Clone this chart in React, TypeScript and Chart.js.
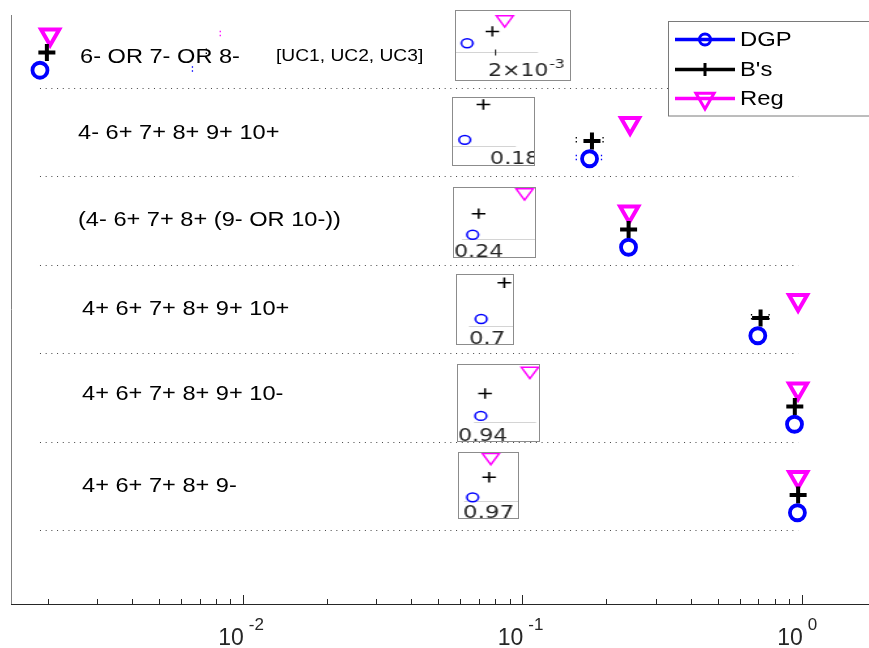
import React, { useEffect, useRef } from 'react';
import { Chart, registerables } from 'chart.js';

Chart.register(...registerables);

// ---- data -------------------------------------------------------------
const rowLabels = [
  '6- OR 7- OR 8-',
  '4- 6+ 7+ 8+ 9+ 10+',
  '(4- 6+ 7+ 8+ (9- OR 10-))',
  '4+ 6+ 7+ 8+ 9+ 10+',
  '4+ 6+ 7+ 8+ 9+ 10-',
  '4+ 6+ 7+ 8+ 9-',
];
const groupNote = '[UC1, UC2, UC3]';
const seriesNames = ['DGP', "B's", 'Reg'];

const dgpValues = [0.001879, 0.174, 0.23989, 0.6961, 0.9418, 0.96467];
const bsValues = [0.001989, 0.1775, 0.24004, 0.7121, 0.9442, 0.97033];
const regValues = [0.002043, 0.243, 0.24121, 0.97, 0.9696, 0.9709];

// interval ends (null = not shown)
const dgpLow = [null, 0.156, null, null, null, null];
const dgpHigh = [0.0066, 0.192, null, null, null, null];
const bsLow = [null, 0.156, null, 0.661, null, null];
const bsHigh = [0.0074, 0.1945, null, 0.764, null, null];
const regLow = [null, null, null, null, null, null];
const regHigh = [0.0083, null, null, null, null, null];

const majorTicks = [0.01, 0.1, 1];
const majorTickExponents = ['-2', '-1', '0'];

const insetTickValues = [0.002, null, null, null, null, null];
const insetTickBase = ['2×10', '0.18', '0.24', '0.7', '0.94', '0.97'];
const insetTickExp = ['-3', '', '', '', '', ''];

// ---- layout / style ----------------------------------------------------
const W = 869;
const H = 648;
const X_MIN = 0.00148;
const X_MAX = 1.74;
const Y_MIN = -0.231;
const Y_MAX = 6.424;
const STRETCH = 1.3;
const FONT = '"Liberation Sans", Arial, Helvetica, sans-serif';
const INSET_FONT = '"DejaVu Sans", sans-serif';

const rowY = (i: number) => rowLabels.length - i;

type SeriesDef = {
  name: string;
  values: number[];
  low: (number | null)[];
  high: (number | null)[];
  offset: number;
  color: string;
  style: 'circle' | 'cross' | 'triangle';
  rotation: number;
  radius: number;
  border: number;
  insetRadius: number;
  legendRadius: number;
};

const seriesDefs: SeriesDef[] = [
  { name: seriesNames[0], values: dgpValues, low: dgpLow, high: dgpHigh, offset: -0.2, color: '#0000ff', style: 'circle', rotation: 0, radius: 7.5, border: 3.8, insetRadius: 4.4, legendRadius: 5.5 },
  { name: seriesNames[1], values: bsValues, low: bsLow, high: bsHigh, offset: 0, color: '#000000', style: 'cross', rotation: 0, radius: 8.5, border: 4, insetRadius: 5.2, legendRadius: 6.5 },
  { name: seriesNames[2], values: regValues, low: regLow, high: regHigh, offset: 0.2, color: '#ff00ff', style: 'triangle', rotation: 180, radius: 10.5, border: 4, insetRadius: 7.5, legendRadius: 10.5 },
];

// row label placement: left edge (px) and vertical shift from the row (px)
const labelLayout = [
  { left: 80, dy: 4.5 },
  { left: 78, dy: -8 },
  { left: 78, dy: -9 },
  { left: 82, dy: -9 },
  { left: 82, dy: -12 },
  { left: 82, dy: -9 },
];

// zoom panels: box [left, top, width, height], axis limits, baseline, label spot
const insetLayout = [
  { box: [455, 10, 116, 71], x: [0.0018305, 0.0023271], y: [-0.82, 0.344], base: -0.34, line: [0, 82], label: [32, 65], size: 17 },
  { box: [452, 97, 83, 69], x: [0.17179, 0.18702], y: [-0.343, 0.037], base: -0.234, line: [0, 63], label: [37, 66], size: 17 },
  { box: [453, 187, 83, 71], x: [0.239415, 0.241475], y: [-0.411, 0.243], base: -0.236, line: [8, 83], label: [0, 69], size: 17 },
  { box: [456, 274, 58, 71], x: [0.67943, 0.7181], y: [-0.338, 0.043], base: -0.236, line: [12, 58], label: [12, 69], size: 17.5 },
  { box: [457, 364, 83, 78], x: [0.92889, 0.97478], y: [-0.423, 0.254], base: -0.251, line: [16, 78], label: [0, 76], size: 17 },
  { box: [458, 452, 61, 67], x: [0.96, 0.98023], y: [-0.406, 0.2415], base: -0.236, line: [5, 61], label: [4, 65], size: 17.5 },
];

// ---- drawing helpers ---------------------------------------------------
function stretchedText(ctx: CanvasRenderingContext2D, text: string, x: number, y: number, sx: number, align: CanvasTextAlign) {
  ctx.save();
  ctx.translate(x, y);
  ctx.scale(sx, 1);
  ctx.textAlign = align;
  ctx.fillText(text, 0, 0);
  ctx.restore();
}

function marker(ctx: CanvasRenderingContext2D, s: SeriesDef, x: number, y: number, r: number, lw: number) {
  ctx.save();
  ctx.strokeStyle = s.color;
  ctx.lineWidth = lw;
  ctx.setLineDash([]);
  ctx.beginPath();
  if (s.style === 'circle') {
    ctx.arc(x, y, r, 0, Math.PI * 2);
  } else if (s.style === 'cross') {
    ctx.moveTo(x - r, y);
    ctx.lineTo(x + r, y);
    ctx.moveTo(x, y - r);
    ctx.lineTo(x, y + r);
  } else {
    ctx.moveTo(x, y + r);
    ctx.lineTo(x - 0.866 * r, y - 0.5 * r);
    ctx.lineTo(x + 0.866 * r, y - 0.5 * r);
    ctx.closePath();
  }
  ctx.stroke();
  ctx.restore();
}

const mainPlugin = {
  id: 'mainFrame',
  beforeDatasetsDraw(chart: any) {
    const { ctx, chartArea: a } = chart;
    const xs = chart.scales.x;
    const ys = chart.scales.y;
    ctx.save();

    // axis lines
    ctx.lineWidth = 1;
    ctx.strokeStyle = '#808080';
    ctx.beginPath();
    ctx.moveTo(a.left + 0.5, a.top);
    ctx.lineTo(a.left + 0.5, a.bottom);
    ctx.stroke();
    ctx.strokeStyle = '#262626';
    ctx.beginPath();
    ctx.moveTo(a.left, a.bottom + 0.5);
    ctx.lineTo(a.right, a.bottom + 0.5);
    ctx.stroke();

    // inward log ticks
    for (let e = -3; e <= 0; e++) {
      for (let m = 1; m <= 9; m++) {
        const v = m * Math.pow(10, e);
        if (v < X_MIN || v > X_MAX) continue;
        const px = Math.round(xs.getPixelForValue(v)) + 0.5;
        const len = m === 1 ? 9 : 5;
        ctx.beginPath();
        ctx.moveTo(px, a.bottom);
        ctx.lineTo(px, a.bottom - len);
        ctx.stroke();
      }
    }

    // tick labels 10^n
    ctx.fillStyle = '#262626';
    ctx.textBaseline = 'alphabetic';
    majorTicks.forEach((v, k) => {
      const px = xs.getPixelForValue(v);
      ctx.font = `23px ${FONT}`;
      ctx.textAlign = 'right';
      ctx.fillText('10', px + 1, 645);
      ctx.font = `17px ${FONT}`;
      ctx.textAlign = 'left';
      ctx.fillText(majorTickExponents[k], px + 6, 630);
    });

    // dotted row separators spanning the data range
    const all = [...dgpValues, ...bsValues, ...regValues];
    const x0 = xs.getPixelForValue(Math.min(...all));
    const x1 = xs.getPixelForValue(Math.max(...all));
    ctx.strokeStyle = '#444';
    ctx.lineWidth = 1;
    ctx.setLineDash([1, 4.7]);
    rowLabels.forEach((_, i) => {
      const yy = Math.round(ys.getPixelForValue(rowY(i) - 0.4)) + 0.5;
      ctx.beginPath();
      ctx.moveTo(x0, yy);
      ctx.lineTo(x1, yy);
      ctx.stroke();
    });

    // interval end caps (dotted)
    ctx.lineWidth = 1.3;
    ctx.setLineDash([1.5, 2.5]);
    seriesDefs.forEach((s) => {
      s.values.forEach((_, i) => {
        const yy = ys.getPixelForValue(rowY(i) + s.offset);
        [s.low[i], s.high[i]].forEach((v) => {
          if (v == null) return;
          const px = xs.getPixelForValue(v);
          ctx.strokeStyle = s.color;
          ctx.beginPath();
          ctx.moveTo(px, yy - 4);
          ctx.lineTo(px, yy + 4);
          ctx.stroke();
        });
      });
    });
    ctx.setLineDash([]);

    // row labels
    ctx.fillStyle = '#000';
    ctx.textBaseline = 'middle';
    ctx.font = `20px ${FONT}`;
    rowLabels.forEach((t, i) => {
      const yy = ys.getPixelForValue(rowY(i)) + labelLayout[i].dy;
      stretchedText(ctx, t, labelLayout[i].left, yy, 1.18, 'left');
    });
    ctx.font = `16px ${FONT}`;
    stretchedText(ctx, groupNote, 276, ys.getPixelForValue(rowY(0)) + 4, 1.2, 'left');

    ctx.restore();
  },
  afterDraw(chart: any) {
    const { ctx } = chart;
    ctx.save();
    ctx.fillStyle = '#fff';
    ctx.fillRect(668.5, 21.5, 220, 94.5);
    ctx.strokeStyle = '#7a7a7a';
    ctx.lineWidth = 1;
    ctx.strokeRect(668.5, 21.5, 220, 94.5);
    const rowsY = [39.5, 69.5, 98.5];
    seriesDefs.forEach((s, k) => {
      const yy = rowsY[k];
      ctx.strokeStyle = s.color;
      ctx.lineWidth = 3.5;
      ctx.beginPath();
      ctx.moveTo(675, yy);
      ctx.lineTo(735, yy);
      ctx.stroke();
      marker(ctx, s, 705, yy, s.legendRadius, 3);
      ctx.fillStyle = '#000';
      ctx.font = `20px ${FONT}`;
      ctx.textBaseline = 'middle';
      stretchedText(ctx, s.name, 740, yy + 1, 1.19, 'left');
    });
    ctx.restore();
  },
};

function mainConfig(): any {
  return {
    type: 'scatter',
    data: {
      datasets: seriesDefs.map((s) => ({
        label: s.name,
        data: s.values.map((v, i) => ({ x: v, y: rowY(i) + s.offset })),
        pointStyle: s.style,
        pointRadius: s.radius,
        pointBorderWidth: s.border,
        pointRotation: s.rotation,
        pointBorderColor: s.color,
        pointBackgroundColor: 'rgba(0,0,0,0)',
        showLine: false,
        clip: false,
      })),
    },
    options: {
      responsive: false,
      animation: false,
      devicePixelRatio: 1,
      events: [],
      layout: { autoPadding: false, padding: { left: 11, top: 15, right: 0, bottom: 44 } },
      scales: {
        x: { type: 'logarithmic', min: X_MIN, max: X_MAX, display: false },
        y: { type: 'linear', min: Y_MIN, max: Y_MAX, display: false },
      },
      plugins: { legend: { display: false }, tooltip: { enabled: false } },
    },
    plugins: [mainPlugin],
  };
}

function insetConfig(i: number, kx: number): any {
  const ins = insetLayout[i];
  const r = rowY(i);
  const plugin = {
    id: 'insetFrame' + i,
    beforeDatasetsDraw(chart: any) {
      const { ctx } = chart;
      const ys = chart.scales.y;
      const xs = chart.scales.x;
      ctx.save();
      const by = Math.round(ys.getPixelForValue(r + ins.base)) + 0.5;
      ctx.strokeStyle = '#d4d4d4';
      ctx.lineWidth = 1;
      ctx.beginPath();
      ctx.moveTo(ins.line[0] / kx, by);
      ctx.lineTo(ins.line[1] / kx, by);
      ctx.stroke();
      const tv = insetTickValues[i];
      if (tv != null) {
        const px = Math.round(xs.getPixelForValue(tv)) + 0.5;
        ctx.strokeStyle = '#333';
        ctx.beginPath();
        ctx.moveTo(px, by - 3);
        ctx.lineTo(px, by + 3);
        ctx.stroke();
      }
      ctx.restore();
    },
    afterDraw(chart: any) {
      const { ctx } = chart;
      ctx.save();
      ctx.fillStyle = '#262626';
      ctx.textBaseline = 'alphabetic';
      ctx.textAlign = 'left';
      const lx = ins.label[0] / kx;
      const ly = ins.label[1];
      ctx.font = `${ins.size}px ${INSET_FONT}`;
      ctx.fillText(insetTickBase[i], lx, ly);
      if (insetTickExp[i]) {
        const w = ctx.measureText(insetTickBase[i]).width;
        ctx.font = `${Math.round(ins.size * 0.72)}px ${INSET_FONT}`;
        ctx.fillText(insetTickExp[i], lx + w + 0.5, ly - 8);
      }
      ctx.restore();
    },
  };
  return {
    type: 'scatter',
    data: {
      datasets: seriesDefs.map((s) => ({
        label: s.name,
        data: [{ x: s.values[i], y: r + s.offset }],
        pointStyle: s.style,
        pointRadius: s.insetRadius,
        pointBorderWidth: 1.5,
        pointRotation: s.rotation,
        pointBorderColor: s.color,
        pointBackgroundColor: 'rgba(0,0,0,0)',
        showLine: false,
        clip: false,
      })),
    },
    options: {
      responsive: false,
      animation: false,
      devicePixelRatio: 1,
      events: [],
      layout: { autoPadding: false, padding: 0 },
      scales: {
        x: { type: 'linear', min: ins.x[0], max: ins.x[1], display: false },
        y: { type: 'linear', min: r + ins.y[0], max: r + ins.y[1], display: false },
      },
      plugins: { legend: { display: false }, tooltip: { enabled: false } },
    },
    plugins: [plugin],
  };
}

export default function App() {
  const mainRef = useRef<HTMLCanvasElement | null>(null);
  const insetRefs = useRef<(HTMLCanvasElement | null)[]>([]);

  useEffect(() => {
    const charts: Chart[] = [];
    if (mainRef.current) charts.push(new Chart(mainRef.current, mainConfig()));
    insetLayout.forEach((ins, i) => {
      const c = insetRefs.current[i];
      if (!c) return;
      const cssW = ins.box[2] - 2;
      const kx = cssW / c.width;
      charts.push(new Chart(c, insetConfig(i, kx)));
    });
    return () => charts.forEach((c) => c.destroy());
  }, []);

  return (
    <div style={{ position: 'fixed', left: 0, top: 0, width: W, height: H, background: '#fff', overflow: 'hidden' }}>
      <canvas ref={mainRef} width={W} height={H} style={{ position: 'absolute', left: 0, top: 0, width: W, height: H }} />
      {insetLayout.map((ins, i) => {
        const [l, t, w, h] = ins.box;
        return (
          <div
            key={i}
            style={{ position: 'absolute', left: l, top: t, width: w, height: h, border: '1px solid #8c8c8c', boxSizing: 'border-box', background: '#fff', overflow: 'hidden' }}
          >
            <canvas
              ref={(el) => { insetRefs.current[i] = el; }}
              width={Math.round((w - 2) / STRETCH)}
              height={h - 2}
              style={{ display: 'block', width: w - 2, height: h - 2 }}
            />
          </div>
        );
      })}
    </div>
  );
}
